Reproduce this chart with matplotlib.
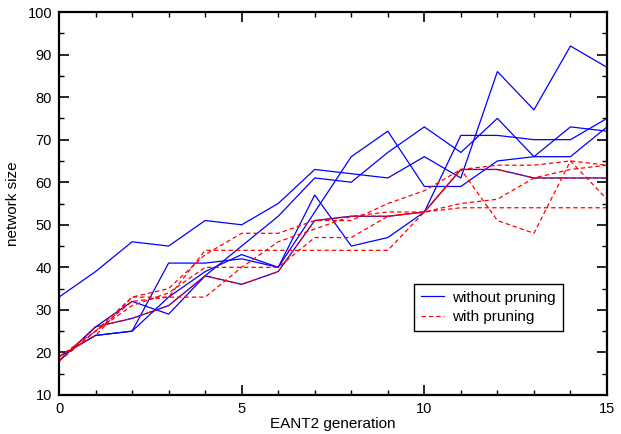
import matplotlib
matplotlib.use("Agg")
import matplotlib.pyplot as plt
import numpy as np

plt.rcParams['font.family'] = ['Liberation Sans', 'DejaVu Sans']

generations = list(range(16))

# without pruning (blue, solid)
blue_run1 = [33, 39, 46, 45, 51, 50, 55, 63, 62, 61, 66, 61, 86, 77, 92, 87]
blue_run2 = [18, 26, 32, 29, 38, 45, 52, 61, 60, 67, 73, 67, 75, 66, 73, 72]
blue_run3 = [19, 24, 25, 33, 39, 43, 40, 53, 66, 72, 59, 59, 65, 66, 66, 73]
blue_run4 = [19, 24, 25, 41, 41, 42, 40, 57, 45, 47, 53, 71, 71, 70, 70, 75]
blue_run5 = [18, 26, 28, 31, 38, 36, 39, 51, 52, 52, 53, 63, 63, 61, 61, 61]

# with pruning (red, dashed)
red_run1 = [19, 25, 33, 35, 43, 48, 48, 51, 51, 55, 58, 63, 64, 64, 65, 64]
red_run2 = [19, 24, 33, 33, 33, 40, 46, 49, 52, 53, 53, 63, 51, 48, 65, 56]
red_run3 = [18, 25, 31, 34, 40, 40, 40, 47, 47, 52, 53, 55, 56, 61, 63, 64]
red_run4 = [18, 25, 32, 33, 44, 44, 44, 44, 44, 44, 53, 54, 54, 54, 54, 54]
red_run5 = [18, 26, 28, 31, 38, 36, 39, 51, 52, 52, 53, 63, 63, 61, 61, 61]

blue_runs = [blue_run1, blue_run2, blue_run3, blue_run4, blue_run5]
red_runs = [red_run1, red_run2, red_run3, red_run4, red_run5]

fig = plt.figure(figsize=(6.21, 4.34), dpi=100)
ax = fig.add_axes([59/621, 39/434, 548/621, 383/434])

for i, run in enumerate(blue_runs):
    ax.plot(generations, run, color='#0000ff', lw=0.9,
            label='without pruning' if i == 0 else None)
for i, run in enumerate(red_runs):
    ax.plot(generations, run, color='#ff0000', lw=0.9, dashes=(3.5, 2.4),
            label='with pruning' if i == 0 else None)

ax.set_xlim(0, 15)
ax.set_ylim(10, 100)
ax.set_xticks([0, 5, 10, 15])
ax.set_xticks(range(16), minor=True)
ax.set_yticks(range(10, 101, 10))
ax.set_yticks(range(10, 101, 5), minor=True)
ax.tick_params(which='both', direction='in', top=True, right=True,
               labelsize=10.5, colors='black')
ax.tick_params(which='major', length=7, width=1.2, pad=5)
ax.tick_params(which='minor', length=3.6, width=1.0)
for s in ax.spines.values():
    s.set_linewidth(1.6)

ax.set_xlabel('EANT2 generation', fontsize=11, labelpad=1)
ax.set_ylabel('network size', fontsize=11, labelpad=5)

leg = ax.legend(loc='upper left', bbox_to_anchor=(0.648, 0.29),
                borderaxespad=0, fancybox=False, edgecolor='black',
                framealpha=1, fontsize=11, handlelength=1.5,
                handletextpad=0.55, borderpad=0.45, labelspacing=0.35)
leg.get_frame().set_linewidth(1.0)

fig.savefig('out.png', dpi=100)
